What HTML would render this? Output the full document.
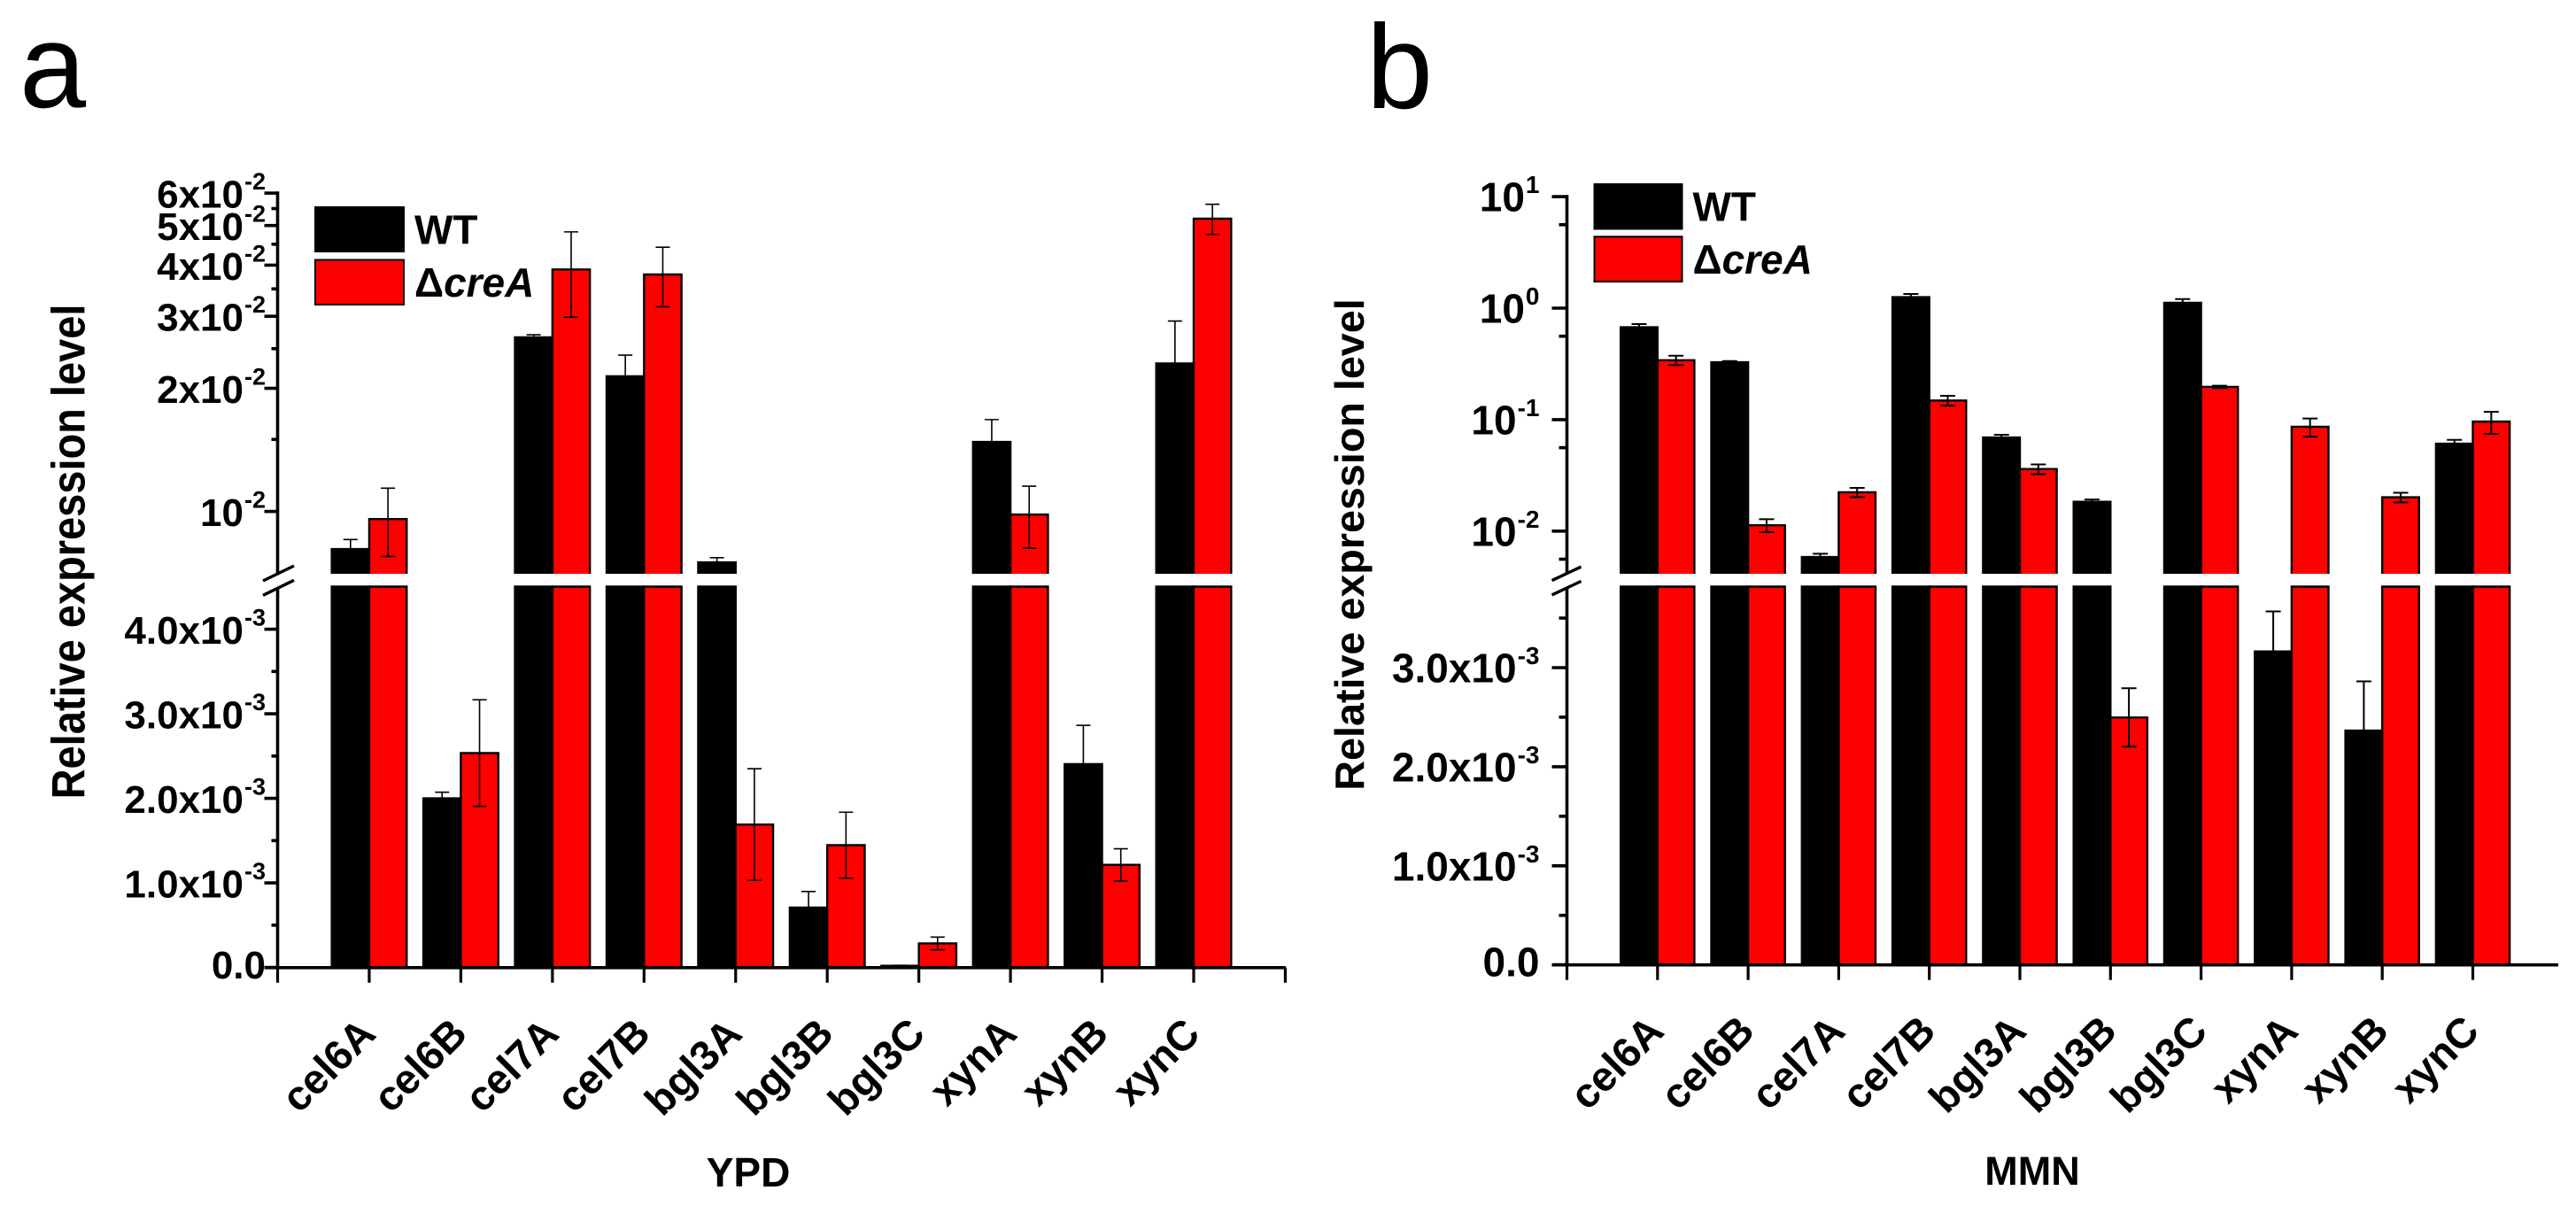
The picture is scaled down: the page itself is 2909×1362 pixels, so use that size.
<!DOCTYPE html>
<html lang="en">
<head>
<meta charset="utf-8">
<title>Relative expression level, YPD and MMN</title>
<style>
html,body{margin:0;padding:0;background:#fff;}
svg{display:block;font-family:"Liberation Sans",Arial,sans-serif;}
.t{font-weight:bold;fill:#000;}
</style>
</head>
<body>
<svg id="chart" xmlns="http://www.w3.org/2000/svg" width="2909" height="1362" viewBox="0 0 2909 1362">
  <rect x="0" y="0" width="2909" height="1362" fill="#fff"/>
  <text x="22" y="121" font-size="135" fill="#000">a</text>
  <text x="1543" y="122" font-size="135" fill="#000">b</text>

  <g id="panelA"></g>
  <g id="panelB"></g>

  <text class="t" transform="translate(95.5,623) rotate(-90) scale(1,1.13)" text-anchor="middle" font-size="47">Relative expression level</text>
  <text class="t" transform="translate(1540,615) rotate(-90)" text-anchor="middle" font-size="46.7">Relative expression level</text>
  <text class="t" x="845" y="1340" text-anchor="middle" font-size="46">YPD</text>
  <text class="t" x="2295" y="1338" text-anchor="middle" font-size="45">MMN</text>

  <g>
    <rect x="356" y="234" width="100" height="50" fill="#000" stroke="#000" stroke-width="2"/>
    <rect x="356" y="293.5" width="100" height="50.5" fill="#f00" stroke="#000" stroke-width="2"/>
    <text class="t" x="468" y="275.5" font-size="46">WT</text>
    <text class="t" x="468" y="335" font-size="46">Δ<tspan font-style="italic">creA</tspan></text>
  </g>
  <g>
    <rect x="1800.5" y="208" width="99" height="50.5" fill="#000" stroke="#000" stroke-width="2"/>
    <rect x="1800.5" y="267.3" width="99" height="50.7" fill="#f00" stroke="#000" stroke-width="2"/>
    <text class="t" x="1911.5" y="249.3" font-size="46">WT</text>
    <text class="t" x="1911.5" y="309" font-size="46">Δ<tspan font-style="italic">creA</tspan></text>
  </g>
</svg>
<script>
const categories = ["cel6A","cel6B","cel7A","cel7B","bgl3A","bgl3B","bgl3C","xynA","xynB","xynC"];

const panelAWtValues  = [0.00809,0.00200,0.02664,0.0214,0.00751,0.000708,0.00002,0.01479,0.002405,0.0230];
const panelAWtErrors  = [0.00045,0.000072,0.0004,0.0027,0.0002,0.00019,0.000005,0.00198,0.000458,0.0062];
const panelARedValues = [0.00958,0.002535,0.03904,0.03795,0.00169,0.001446,0.000284,0.00983,0.001214,0.05195];
const panelARedErrors = [0.00182,0.00063,0.0092,0.0063,0.00066,0.00039,0.000075,0.0017,0.00019,0.0044];

const panelBWtValues  = [0.674,0.3276,0.00586,1.255,0.0692,0.0183,1.116,0.003163,0.002365,0.0609];
const panelBWtErrors  = [0.046,0.008,0.0004,0.085,0.004,0.0009,0.089,0.000405,0.000497,0.005];
const panelBRedValues = [0.341,0.01128,0.0223,0.1485,0.0360,0.002497,0.1965,0.0864,0.0201,0.096];
const panelBRedErrors = [0.033,0.0015,0.0021,0.015,0.0036,0.000295,0.005,0.016,0.002,0.0215];

const panelAUpperTicks = [0.01,0.02,0.03,0.04,0.05,0.06];
const panelAUpperMinorTicks = [0.015,0.025,0.035,0.045,0.055];
const panelAUpperLabels = ["10","2x10","3x10","4x10","5x10","6x10"];
const panelAUpperExponents = ["-2","-2","-2","-2","-2","-2"];
const panelALowerTicks = [0,0.001,0.002,0.003,0.004];
const panelALowerMinorTicks = [0.0005,0.0015,0.0025,0.0035];
const panelALowerLabels = ["0.0","1.0x10","2.0x10","3.0x10","4.0x10"];
const panelALowerExponents = ["","-3","-3","-3","-3"];

const panelBUpperTicks = [0.01,0.1,1,10];
const panelBUpperMinorTicks = [0.0056,0.056,0.56,5.6];
const panelBUpperLabels = ["10","10","10","10"];
const panelBUpperExponents = ["-2","-1","0","1"];
const panelBLowerTicks = [0,0.001,0.002,0.003];
const panelBLowerMinorTicks = [0.0005,0.0015,0.0025,0.0035];
const panelBLowerLabels = ["0.0","1.0x10","2.0x10","3.0x10"];
const panelBLowerExponents = ["","-3","-3","-3"];

const SVGNS = "http://www.w3.org/2000/svg";

function make(parent, tag, attrs, text) {
  const node = document.createElementNS(SVGNS, tag);
  for (const key in attrs) node.setAttribute(key, attrs[key]);
  if (text !== undefined) node.textContent = text;
  parent.appendChild(node);
  return node;
}

function makeScale(base, perUnit, breakAt, upperAnchor, upperRef, perDecade) {
  return function (v) {
    if (v <= breakAt) return base - v * perUnit;
    return upperAnchor - perDecade * Math.log10(v / upperRef);
  };
}

const panelAScale = makeScale(1092.6, 95500, 0.005, 577.6, 0.01, 462);
const panelBScale = makeScale(1089.7, 111900, 0.004, 348, 1, 125.9);

function drawPanel(root, o) {
  const xAt = function (k) { return o.axisX + k * o.step; };

  // bars
  function bar(k, side, value, fill, name) {
    const x0 = side === 0 ? xAt(k) - o.barW : xAt(k);
    const x1 = side === 0 ? xAt(k) : xAt(k) + o.barW;
    const top = o.y(value);
    let d;
    if (value > o.breakValue) {
      d = "M" + x0 + "," + o.axisY + "V" + o.gapBottom + "H" + x1 + "V" + o.axisY +
          "M" + x0 + "," + o.gapTop + "V" + top + "H" + x1 + "V" + o.gapTop;
    } else {
      d = "M" + x0 + "," + o.axisY + "V" + top + "H" + x1 + "V" + o.axisY;
    }
    const p = make(root, "path", {d: d, fill: fill, stroke: "#000", "stroke-width": 2.4});
    
    
  }
  function err(k, side, value, e, name) {
    const cx = side === 0 ? xAt(k) - o.barW / 2 : xAt(k) + o.barW / 2;
    const hi = o.y(value + e);
    const lo = o.y(Math.max(value - e, 0));
    const d = "M" + cx + "," + hi + "V" + lo +
              "M" + (cx - o.cap) + "," + hi + "H" + (cx + o.cap) +
              "M" + (cx - o.cap) + "," + lo + "H" + (cx + o.cap);
    const p = make(root, "path", {d: d, fill: "none", stroke: "#000", "stroke-width": o.errW});
    
    
  }
  categories.forEach(function (c, i) {
    bar(i + 1, 0, o.wt[i], "#000", "bar-wt-" + c);
    bar(i + 1, 1, o.red[i], "#f00", "bar-crea-" + c);
  });
  categories.forEach(function (c, i) {
    err(i + 1, 0, o.wt[i], o.wtErr[i], "error-bar-wt-" + c);
    err(i + 1, 1, o.red[i], o.redErr[i], "error-bar-crea-" + c);
  });

  // axes
  const axisStyle = {stroke: "#000", "stroke-width": 3.6, fill: "none"};
  const yUp = make(root, "line", Object.assign({x1: o.axisX, x2: o.axisX, y1: o.y(o.upperTicks[o.upperTicks.length - 1]) - 1.8, y2: o.gapTop}, axisStyle));
  
  
  const yLow = make(root, "line", Object.assign({x1: o.axisX, x2: o.axisX, y1: o.gapBottom + 2, y2: o.axisY}, axisStyle));
  
  
  const xAxis = make(root, "line", Object.assign({x1: o.axisX - o.major, x2: o.xEnd, y1: o.axisY, y2: o.axisY}, axisStyle));
  
  

  // axis break marks
  [0, 16.3].forEach(function (dy) {
    const s = make(root, "line", {x1: o.axisX - o.breakL, y1: o.breakY + dy, x2: o.axisX + o.breakR, y2: o.breakY + dy - o.breakRise, stroke: "#000", "stroke-width": 3.4});
    
    
  });

  // y ticks
  function yTicks(values, len, name) {
    values.forEach(function (v) {
      const y = o.y(v);
      const t = make(root, "line", Object.assign({x1: o.axisX - len, x2: o.axisX, y1: y, y2: y}, axisStyle));
      
      
    });
  }
  yTicks(o.upperTicks, o.major, "y-tick-major");
  yTicks(o.upperMinor, o.minor, "y-tick-minor");
  yTicks(o.lowerTicks, o.major, "y-tick-major");
  yTicks(o.lowerMinor, o.minor, "y-tick-minor");

  function yLabels(values, labels, exps) {
    values.forEach(function (v, i) {
      const isZero = v === 0;
      const label = make(root, "text", {
        "class": "t",
        x: o.labelRight,
        y: o.y(v) + (isZero ? o.zeroBase : 16.5),
        "text-anchor": "end",
        "font-size": o.tickFont
      });
      
      
      const main = make(label, "tspan", {}, labels[i]);
      
      
      if (exps[i]) {
        const sup = make(label, "tspan", {dy: -20.5, dx: 1, "font-size": o.supFont}, exps[i]);
        
        
      }
    });
  }
  yLabels(o.upperTicks, o.upperLabels, o.upperExps);
  yLabels(o.lowerTicks, o.lowerLabels, o.lowerExps);

  // x ticks
  for (let k = 0; k <= o.xTickCount; k++) {
    const t = make(root, "line", {x1: xAt(k), x2: xAt(k), y1: o.axisY, y2: o.axisY + o.xTickLen, stroke: "#000", "stroke-width": 3.2});
    
    
  }

  // category labels
  categories.forEach(function (c, i) {
    const px = xAt(i + 1) + 9.5;
    const lab = make(root, "text", {
      "class": "t",
      transform: "translate(" + px + "," + o.catY + ") rotate(-45)",
      "text-anchor": "end",
      "font-size": 47
    }, c);
    
    
  });
}

drawPanel(document.getElementById("panelA"), {
  y: panelAScale, axisX: 313.5, axisY: 1092.8, step: 103.45, barW: 42.3, cap: 8, errW: 1.6,
  xEnd: 1452, xTickCount: 11, xTickLen: 17, breakValue: 0.005, gapTop: 648, gapBottom: 662.5,
  major: 15, minor: 7, breakL: 16.5, breakR: 18.5, breakY: 656, breakRise: 17,
  labelRight: 300, zeroBase: 12.5, tickFont: 44, supFont: 27, catY: 1170,
  wt: panelAWtValues, wtErr: panelAWtErrors, red: panelARedValues, redErr: panelARedErrors,
  upperTicks: panelAUpperTicks, upperMinor: panelAUpperMinorTicks, upperLabels: panelAUpperLabels, upperExps: panelAUpperExponents,
  lowerTicks: panelALowerTicks, lowerMinor: panelALowerMinorTicks, lowerLabels: panelALowerLabels, lowerExps: panelALowerExponents
});

drawPanel(document.getElementById("panelB"), {
  y: panelBScale, axisX: 1769.5, axisY: 1089.7, step: 102.3, barW: 41.6, cap: 8.5, errW: 2,
  xEnd: 2889, xTickCount: 10, xTickLen: 17, breakValue: 0.004, gapTop: 648, gapBottom: 662.5,
  major: 17, minor: 9, breakL: 17, breakR: 16, breakY: 655.6, breakRise: 15.5,
  labelRight: 1738.5, zeroBase: 13, tickFont: 46, supFont: 28, catY: 1167,
  wt: panelBWtValues, wtErr: panelBWtErrors, red: panelBRedValues, redErr: panelBRedErrors,
  upperTicks: panelBUpperTicks, upperMinor: panelBUpperMinorTicks, upperLabels: panelBUpperLabels, upperExps: panelBUpperExponents,
  lowerTicks: panelBLowerTicks, lowerMinor: panelBLowerMinorTicks, lowerLabels: panelBLowerLabels, lowerExps: panelBLowerExponents
});
</script>
</body>
</html>
